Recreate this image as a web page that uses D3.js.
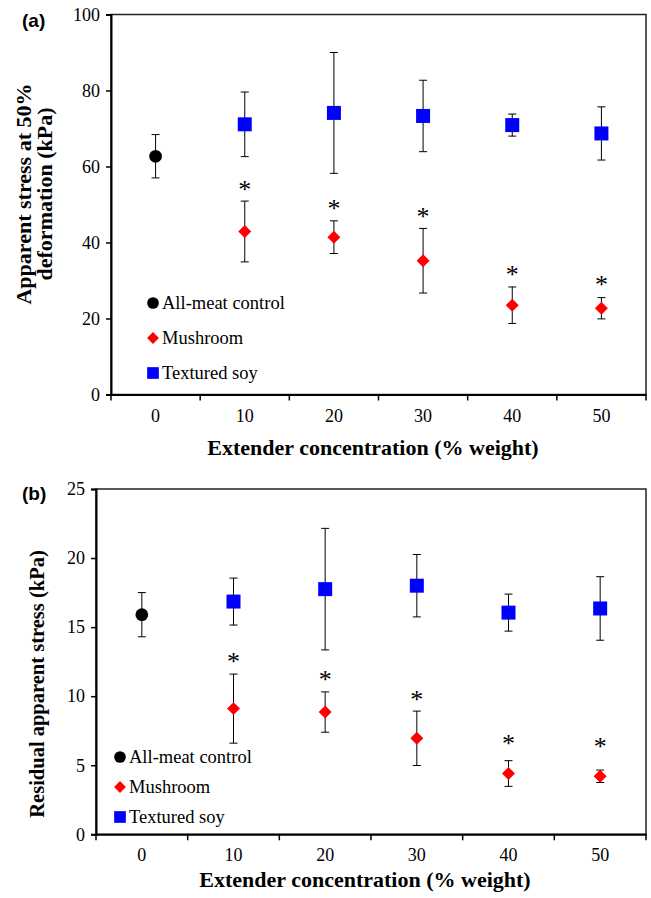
<!DOCTYPE html>
<html>
<head>
<meta charset="utf-8">
<script src="https://cdn.jsdelivr.net/npm/d3@7"></script>
<style>
  body { margin: 0; background: #fff; }
  svg { display: block; }
  text { font-family: "Liberation Serif", "Times New Roman", serif; fill: #000; }
</style>
</head>
<body>
<svg id="chart" width="651" height="898"></svg>
<script>
// categories on the x axis (extender %)
const categories = ["0", "10", "20", "30", "40", "50"];
const extCats = ["10", "20", "30", "40", "50"];
const seriesNames = ["All-meat control", "Mushroom", "Textured soy"];

// panel (a): apparent stress at 50% deformation (kPa)
const aYTicks = [0, 20, 40, 60, 80, 100];
const aControlMean = [62.7];
const aControlErr = [5.7];
const aMushMean = [42.9, 41.4, 35.2, 23.5, 22.7];
const aMushErr = [8.0, 4.3, 8.5, 4.8, 2.8];
const aSoyMean = [71.1, 74.1, 73.3, 70.9, 68.7];
const aSoyErr = [8.5, 15.9, 9.4, 2.9, 7.0];
const aStar = [54.7, 49.6, 47.5, 32.3, 29.7]; // where the * sits

// panel (b): residual apparent stress (kPa)
const bYTicks = [0, 5, 10, 15, 20, 25];
const bControlMean = [15.9];
const bControlErr = [1.6];
const bMushMean = [9.1, 8.85, 6.95, 4.4, 4.2];
const bMushErr = [2.5, 1.46, 1.97, 0.93, 0.45];
const bSoyMean = [16.85, 17.75, 18.0, 16.05, 16.35];
const bSoyErr = [1.7, 4.4, 2.26, 1.34, 2.3];
const bStar = [12.67, 11.37, 9.96, 6.76, 6.54];

const serif = "'Liberation Serif', 'Times New Roman', serif";
const svg = d3.select("#chart");

function drawPanel(p) {
  const g = svg.append("g");

  const x = d3.scaleBand().domain(categories).range([p.left, p.right]);
  const y = d3.scaleLinear().domain([0, p.yMax]).range([p.bottom, p.top]);

  // frame (top / right)
  g.append("rect")
    .attr("x", p.left).attr("y", p.top)
    .attr("width", p.right - p.left).attr("height", p.bottom - p.top)
    .attr("fill", "none").attr("stroke", "#222").attr("stroke-width", 1.5);

  // y axis
  const yAxis = d3.axisLeft(y).tickValues(p.yTicks).tickSize(5).tickPadding(6);
  const ya = g.append("g").attr("transform", `translate(${p.left},0)`).call(yAxis)
    .attr("font-family", serif).attr("font-size", 18);
  ya.select(".domain").attr("stroke", "#000").attr("stroke-width", 2);
  ya.selectAll(".tick line").attr("stroke", "#000").attr("stroke-width", 1.5);

  // x axis: labels at band centres, tick marks at band edges
  const xAxis = d3.axisBottom(x).tickSize(0).tickPadding(p.xPad);
  const xa = g.append("g").attr("transform", `translate(0,${p.bottom})`).call(xAxis)
    .attr("font-family", serif).attr("font-size", 18);
  xa.select(".domain").attr("stroke", "#000").attr("stroke-width", 2);

  const edges = categories.map(c => x(c)).concat([p.right]);
  g.selectAll(".xedge").data(edges).join("line")
    .attr("x1", d => d).attr("x2", d => d)
    .attr("y1", p.bottom).attr("y2", p.bottom + 6)
    .attr("stroke", "#000").attr("stroke-width", 1.5);

  // titles
  g.append("text")
    .attr("x", p.xTitleX).attr("y", p.xTitleY)
    .attr("text-anchor", "middle")
    .style("font-size", "22px").style("font-weight", "bold")
    .text("Extender concentration (% weight)");

  const yt = g.append("text")
    .attr("transform", `translate(${p.yTitleX},${p.yTitleY}) rotate(-90)`)
    .attr("text-anchor", "middle")
    .style("font-size", p.yTitleSize + "px").style("font-weight", "bold");
  p.yTitle.forEach((line, i) => {
    yt.append("tspan").attr("x", 0).attr("dy", i === 0 ? 0 : 21).text(line);
  });

  g.append("text")
    .attr("x", 22).attr("y", p.labelY)
    .style("font-family", "'Liberation Sans', Arial, sans-serif")
    .style("font-size", "19px").style("font-weight", "bold")
    .text(p.label);

  // series
  const control = p.controlMean.map((m, i) => ({ c: "0", m, e: p.controlErr[i] }));
  const mush = p.mushMean.map((m, i) => ({ c: extCats[i], m, e: p.mushErr[i] }));
  const soy = p.soyMean.map((m, i) => ({ c: extCats[i], m, e: p.soyErr[i] }));
  const all = control.concat(mush, soy);
  const cx = d => x(d.c) + x.bandwidth() / 2;

  // error bars
  const eb = g.append("g").attr("stroke", "#000").attr("stroke-width", 1);
  eb.selectAll(".v").data(all).join("line")
    .attr("x1", cx).attr("x2", cx)
    .attr("y1", d => y(d.m + d.e)).attr("y2", d => y(d.m - d.e));
  eb.selectAll(".capT").data(all).join("line")
    .attr("x1", d => cx(d) - 4).attr("x2", d => cx(d) + 4)
    .attr("y1", d => y(d.m + d.e)).attr("y2", d => y(d.m + d.e));
  eb.selectAll(".capB").data(all).join("line")
    .attr("x1", d => cx(d) - 4).attr("x2", d => cx(d) + 4)
    .attr("y1", d => y(d.m - d.e)).attr("y2", d => y(d.m - d.e));

  const circle = d3.symbol().type(d3.symbolCircle);
  const square = d3.symbol().type(d3.symbolSquare);

  g.selectAll(".ctrl").data(control).join("path")
    .attr("d", circle.size(127)())
    .attr("transform", d => `translate(${cx(d)},${y(d.m)})`)
    .attr("fill", "#000");
  g.selectAll(".mush").data(mush).join("path")
    .attr("d", square.size(84)())
    .attr("transform", d => `translate(${cx(d)},${y(d.m)}) rotate(45)`)
    .attr("fill", "#ff0000");
  g.selectAll(".soy").data(soy).join("path")
    .attr("d", square.size(196)())
    .attr("transform", d => `translate(${cx(d)},${y(d.m)})`)
    .attr("fill", "#0000ff");

  // significance marks
  g.selectAll(".star").data(p.star).join("text")
    .attr("x", (d, i) => x(extCats[i]) + x.bandwidth() / 2)
    .attr("y", d => y(d))
    .attr("dy", "0.42em")
    .attr("text-anchor", "middle")
    .style("font-size", "26px")
    .text("*");

  // legend
  const lg = g.append("g");
  const legendMarks = [
    { d: circle.size(107)(), fill: "#000", rot: 0 },
    { d: square.size(70)(), fill: "#ff0000", rot: 45 },
    { d: square.size(137)(), fill: "#0000ff", rot: 0 }
  ];
  seriesNames.forEach((name, i) => {
    const ly = p.legendY + i * p.legendStep;
    lg.append("path")
      .attr("d", legendMarks[i].d)
      .attr("transform", `translate(${p.legendX},${ly}) rotate(${legendMarks[i].rot})`)
      .attr("fill", legendMarks[i].fill);
    lg.append("text")
      .attr("x", p.legendX + 9).attr("y", ly)
      .attr("dy", "0.35em")
      .style("font-size", "18.5px")
      .text(name);
  });
}

drawPanel({
  left: 111, right: 646, top: 14.5, bottom: 394.5, yMax: 100, yTicks: aYTicks,
  xPad: 15, xTitleX: 373, xTitleY: 455,
  yTitle: ["Apparent stress at 50%", "deformation (kPa)"], yTitleSize: 22, yTitleX: 31, yTitleY: 194,
  label: "(a)", labelY: 27,
  controlMean: aControlMean, controlErr: aControlErr,
  mushMean: aMushMean, mushErr: aMushErr,
  soyMean: aSoyMean, soyErr: aSoyErr, star: aStar,
  legendX: 153, legendY: 303, legendStep: 35
});

drawPanel({
  left: 96, right: 646, top: 489, bottom: 834.3, yMax: 25, yTicks: bYTicks,
  xPad: 14, xTitleX: 365, xTitleY: 887,
  yTitle: ["Residual apparent stress (kPa)"], yTitleSize: 20.5, yTitleX: 44, yTitleY: 684,
  label: "(b)", labelY: 500,
  controlMean: bControlMean, controlErr: bControlErr,
  mushMean: bMushMean, mushErr: bMushErr,
  soyMean: bSoyMean, soyErr: bSoyErr, star: bStar,
  legendX: 120, legendY: 757, legendStep: 30
});
</script>
</body>
</html>
